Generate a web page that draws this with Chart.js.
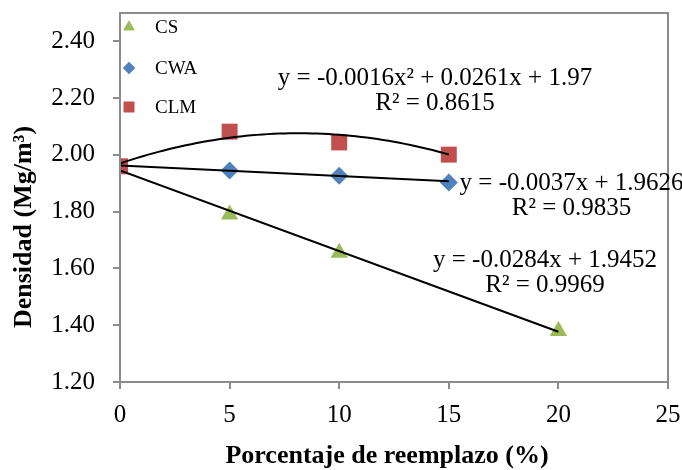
<!DOCTYPE html>
<html>
<head>
<meta charset="utf-8">
<script src="https://cdn.jsdelivr.net/npm/chart.js@4/dist/chart.umd.min.js"></script>
<style>
  html, body { margin: 0; padding: 0; background: #fff; }
  #wrap { width: 682px; height: 470px; position: relative; }
</style>
</head>
<body>
<div id="wrap"><canvas id="c" width="682" height="470"></canvas></div>
<script>
// Replacement percentage (x) and measured density (Mg/m³) per mix
const csX  = [0, 5, 10, 20];
const csY  = [1.96, 1.79, 1.655, 1.38];
const cwaX = [0, 5, 10, 15];
const cwaY = [1.96, 1.945, 1.927, 1.903];
const clmX = [0, 5, 10, 15];
const clmY = [1.96, 2.082, 2.044, 2.001];

const seriesNames = ['CS', 'CWA', 'CLM'];
const seriesColors = ['#9BBB59', '#4F81BD', '#C0504D'];

// Trendline coefficients (highest power first) and fitted range
const csFit  = [-0.0284, 1.9452];
const cwaFit = [-0.0037, 1.9626];
const clmFit = [-0.0016, 0.0261, 1.97];
const csFitRange = [0, 20];
const cwaFitRange = [0, 15];
const clmFitRange = [0, 15];

const yTicks = [1.2, 1.4, 1.6, 1.8, 2.0, 2.2, 2.4];
const xTicks = [0, 5, 10, 15, 20, 25];

const xTitle = 'Porcentaje de reemplazo (%)';
const yTitle = 'Densidad (Mg/m³)';

// Trendline equations, anchored in data coordinates
const fitLabels = [
  { lines: ['y = -0.0016x² + 0.0261x + 1.97', 'R² = 0.8615'], x: 14.37, y: 2.271 },
  { lines: ['y = -0.0037x + 1.9626', 'R² = 0.9835'], x: 20.6, y: 1.901 },
  { lines: ['y = -0.0284x + 1.9452', 'R² = 0.9969'], x: 19.39, y: 1.630 }
];

function polyAt(c, x) { return c.reduce((acc, k) => acc * x + k, 0); }
function fitPoints(c, range, steps) {
  const pts = [];
  for (let i = 0; i <= steps; i++) {
    const x = range[0] + (range[1] - range[0]) * i / steps;
    pts.push({ x, y: polyAt(c, x) });
  }
  return pts;
}
const toPts = (xs, ys) => xs.map((x, i) => ({ x, y: ys[i] }));

const SERIF = '"Liberation Serif", "Times New Roman", serif';
const AXIS_GRAY = '#8c8c8c';

const trendStyle = { borderColor: '#000', borderWidth: 2, pointRadius: 0, showLine: true, fill: false, tension: 0 };

const data = {
  datasets: [
    Object.assign({ label: 'fitCLM', data: fitPoints(clmFit, clmFitRange, 60), order: 0 }, trendStyle),
    Object.assign({ label: 'fitCWA', data: fitPoints(cwaFit, cwaFitRange, 1), order: 0 }, trendStyle),
    Object.assign({ label: 'fitCS', data: fitPoints(csFit, csFitRange, 1), order: 0 }, trendStyle),
    { label: seriesNames[0], data: toPts(csX, csY), pointStyle: 'triangle', pointRadius: 10,
      backgroundColor: seriesColors[0], borderColor: seriesColors[0], borderWidth: 0, showLine: false, order: 3 },
    { label: seriesNames[1], data: toPts(cwaX, cwaY), pointStyle: 'rectRot', pointRadius: 9,
      backgroundColor: seriesColors[1], borderColor: seriesColors[1], borderWidth: 0, showLine: false, order: 2 },
    { label: seriesNames[2], data: toPts(clmX, clmY), pointStyle: 'rect', pointRadius: 11.3,
      backgroundColor: seriesColors[2], borderColor: seriesColors[2], borderWidth: 0, showLine: false, order: 1 }
  ]
};

// Frame, axis titles, in-plot legend and trendline equations
const decorations = {
  id: 'decorations',
  afterDraw(chart) {
    const ctx = chart.ctx;
    const a = chart.chartArea;
    const xs = chart.scales.x, ys = chart.scales.y;
    ctx.save();
    ctx.strokeStyle = AXIS_GRAY;
    ctx.lineWidth = 2;
    ctx.strokeRect(a.left, a.top, a.right - a.left, a.bottom - a.top);

    // axis titles
    ctx.fillStyle = '#000';
    ctx.font = 'bold 26px ' + SERIF;
    ctx.textAlign = 'center';
    ctx.textBaseline = 'middle';
    ctx.fillText(xTitle, 387, 456);
    ctx.save();
    ctx.translate(24, 227);
    ctx.rotate(-Math.PI / 2);
    ctx.fillText(yTitle, 0, 0);
    ctx.restore();

    // legend
    const legendRows = [27, 68, 107];
    const styles = ['triangle', 'rectRot', 'rect'];
    const radii = [6.5, 6, 7.5];
    ctx.font = '19px ' + SERIF;
    ctx.textAlign = 'left';
    for (let i = 0; i < 3; i++) {
      ctx.fillStyle = seriesColors[i];
      ctx.strokeStyle = seriesColors[i];
      Chart.helpers.drawPoint(ctx, { pointStyle: styles[i], radius: radii[i], borderWidth: 0 }, 129, legendRows[i]);
      ctx.fill();
      ctx.fillStyle = '#000';
      ctx.fillText(seriesNames[i], 155, legendRows[i] + 1);
    }

    // equations
    ctx.font = '25px ' + SERIF;
    ctx.textAlign = 'center';
    ctx.fillStyle = '#000';
    fitLabels.forEach(f => {
      const px = xs.getPixelForValue(f.x);
      const py = ys.getPixelForValue(f.y);
      f.lines.forEach((t, j) => ctx.fillText(t, px, py + j * 25));
    });
    ctx.restore();
  }
};

new Chart(document.getElementById('c'), {
  type: 'scatter',
  data,
  plugins: [decorations],
  options: {
    responsive: false,
    animation: false,
    layout: { padding: { top: 13, right: 14, left: 0, bottom: 0 } },
    plugins: { legend: { display: false }, tooltip: { enabled: false } },
    scales: {
      x: {
        type: 'linear', min: 0, max: 25,
        afterBuildTicks: s => { s.ticks = xTicks.map(v => ({ value: v })); },
        afterFit: s => { s.height = 88; s.paddingLeft = 0; s.paddingRight = 0; },
        grid: { drawOnChartArea: false, color: AXIS_GRAY, tickLength: 7, lineWidth: 2 },
        border: { color: AXIS_GRAY, width: 2 },
        ticks: { color: '#000', font: { family: SERIF, size: 25 }, padding: 11, maxRotation: 0 }
      },
      y: {
        type: 'linear', min: 1.2, max: 2.5,
        afterBuildTicks: s => { s.ticks = yTicks.map(v => ({ value: v })); },
        afterFit: s => { s.width = 120; s.paddingTop = 0; s.paddingBottom = 0; },
        grid: { drawOnChartArea: false, color: AXIS_GRAY, tickLength: 7, lineWidth: 2 },
        border: { color: AXIS_GRAY, width: 2 },
        ticks: { color: '#000', font: { family: SERIF, size: 25 }, padding: 18,
                 callback: v => v.toFixed(2) }
      }
    }
  }
});
</script>
</body>
</html>
